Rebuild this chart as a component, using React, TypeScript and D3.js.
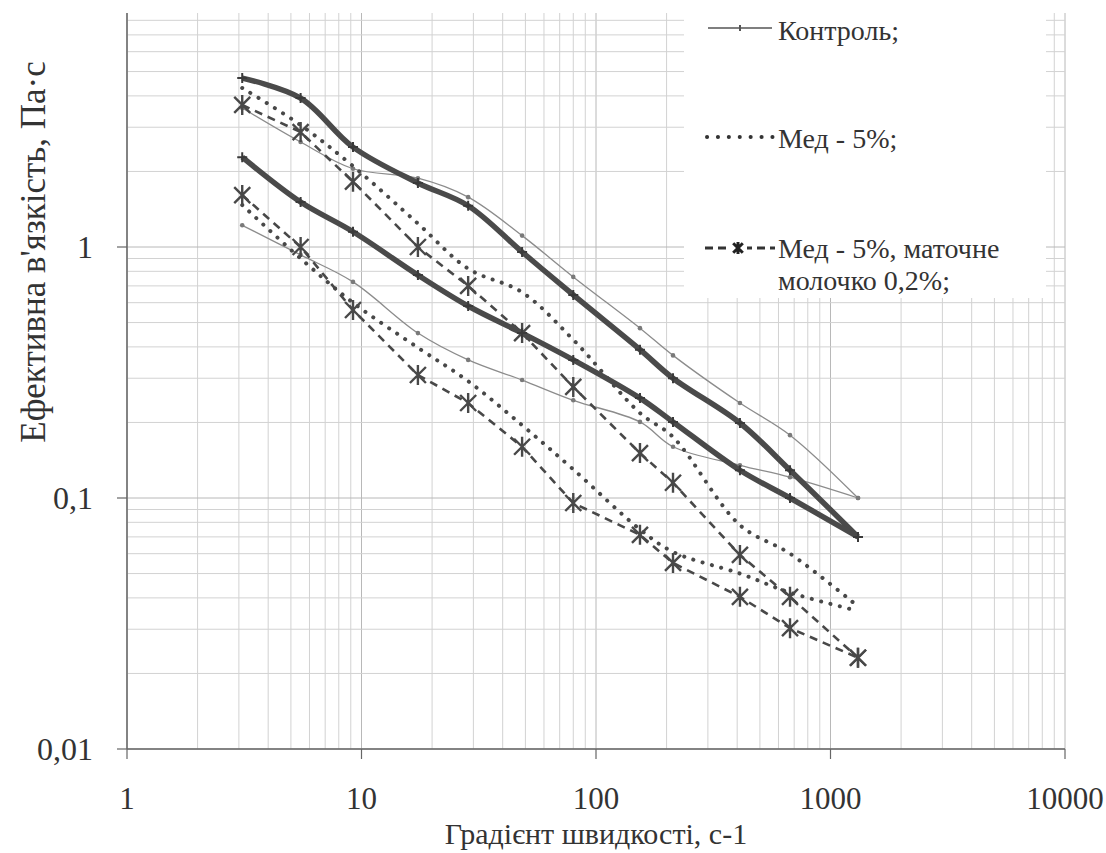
import React from 'react';
import * as d3 from 'd3';

// shear rate points (x)
const gradient = [3.1, 5.5, 9.2, 17.4, 28.5, 48.4, 80, 154, 213, 411, 672, 1310];

// thick solid lines (no legend entry)
const thickUpper = [4.71, 3.92, 2.5, 1.8, 1.46, 0.955, 0.644, 0.39, 0.3, 0.199, 0.129, 0.07];
const thickLower = [2.28, 1.51, 1.15, 0.773, 0.582, 0.454, 0.355, 0.25, 0.201, 0.129, 0.1, 0.07];

// Контроль (thin line)
const controlUpper = [3.58, 2.62, 2.05, 1.88, 1.58, 1.11, 0.76, 0.475, 0.37, 0.239, 0.178, 0.1];
const controlLower = [1.22, 0.93, 0.726, 0.454, 0.355, 0.295, 0.245, 0.201, 0.16, 0.135, 0.121, 0.1];

// Мед - 5% (dotted)
const honeyUpper = [4.3, 3.06, 2.1, 1.24, 0.82, 0.66, 0.427, 0.218, 0.175, 0.078, 0.06, 0.037];
const honeyLower = [1.47, 0.9, 0.6, 0.397, 0.292, 0.195, 0.13, 0.075, 0.061, 0.05, 0.042, 0.0355];

// Мед - 5%, маточне молочко 0,2% (dashed, star markers)
const jellyUpper = [3.68, 2.87, 1.82, 1.0, 0.7, 0.454, 0.277, 0.151, 0.115, 0.0593, 0.0404, 0.0231];
const jellyLower = [1.61, 1.0, 0.561, 0.309, 0.239, 0.16, 0.0955, 0.0713, 0.0551, 0.0404, 0.0303, 0.0231];

const xTickLabels = ['1', '10', '100', '1000', '10000'];
const yTickLabels = ['0,01', '0,1', '1'];

const legendLabels = ['Контроль;', 'Мед - 5%;', 'Мед - 5%, маточне', 'молочко 0,2%;'];

const FONT = "'Liberation Serif', 'DejaVu Serif', serif";

const x = d3.scaleLog().domain([1, 10000]).range([127, 1065]);
const y = d3.scaleLog().domain([0.01, 10]).range([749, -4]);
const plotTop = 13;

const starPath = (r: number) =>
  `M0,${-r}V${r}M${-r * 0.8},${-r * 0.8}L${r * 0.8},${r * 0.8}M${-r * 0.8},${r * 0.8}L${r * 0.8},${-r * 0.8}`;

export default function App() {
  const pts = (vals: number[]) => vals.map((v, i) => [gradient[i], v] as [number, number]);
  const smooth = d3
    .line<[number, number]>()
    .x((d) => x(d[0]))
    .y((d) => y(d[1]))
    .curve(d3.curveCatmullRom.alpha(0.5));
  const straight = d3
    .line<[number, number]>()
    .x((d) => x(d[0]))
    .y((d) => y(d[1]));

  // grid values
  const xGrid: number[] = [];
  for (let e = 0; e < 4; e++) for (let k = 1; k < 10; k++) xGrid.push(k * Math.pow(10, e));
  xGrid.push(10000);
  const yGrid: number[] = [];
  for (let e = -2; e < 1; e++) for (let k = 1; k < 10; k++) yGrid.push(+(k * Math.pow(10, e)).toFixed(4));
  const xMajor = [1, 10, 100, 1000, 10000];
  const yMajor = [0.01, 0.1, 1];

  const lineCol = '#484848';
  const thinCol = '#8c8c8c';
  const txt = { fontFamily: FONT };
  const plotMidX = (x.range()[0] + x.range()[1]) / 2;

  return (
    <svg
      width={1106}
      height={853}
      style={{ position: 'absolute', left: 0, top: 0, background: '#fff', fontFamily: FONT }}
    >
      <rect width={1106} height={853} fill="#fff" />
      {/* grid */}
      <g>
        {xGrid.map((v, i) => (
          <line
            key={'gx' + i}
            x1={x(v)}
            x2={x(v)}
            y1={plotTop}
            y2={749}
            stroke={xMajor.includes(v) ? '#b8b8b8' : '#d2d2d2'}
            strokeWidth={1}
          />
        ))}
        {yGrid
          .filter((v) => y(v) >= plotTop)
          .map((v, i) => (
            <line
              key={'gy' + i}
              x1={127}
              x2={1065}
              y1={y(v)}
              y2={y(v)}
              stroke={yMajor.includes(v) ? '#b8b8b8' : '#d2d2d2'}
              strokeWidth={1}
            />
          ))}
      </g>

      {/* axes */}
      <line x1={127} x2={127} y1={plotTop} y2={749} stroke="#666" strokeWidth={1.5} />
      <line x1={127} x2={1065} y1={749} y2={749} stroke="#666" strokeWidth={1.5} />
      {xMajor.map((v, i) => (
        <g key={'xt' + i}>
          <line x1={x(v)} x2={x(v)} y1={749} y2={759} stroke="#666" strokeWidth={1.2} />
          <text x={x(v)} y={809} textAnchor="middle" fontSize={31} fill="#333" style={txt}>
            {xTickLabels[i]}
          </text>
        </g>
      ))}
      {yMajor.map((v, i) => (
        <g key={'yt' + i}>
          <line x1={117} x2={127} y1={y(v)} y2={y(v)} stroke="#666" strokeWidth={1.2} />
          <text x={93} y={y(v)} dy="0.35em" textAnchor="end" fontSize={32} fill="#333" style={txt}>
            {yTickLabels[i]}
          </text>
        </g>
      ))}

      {/* axis titles */}
      <text x={plotMidX} y={844} textAnchor="middle" fontSize={30} fill="#333" style={txt}>
        Градієнт швидкості, с-1
      </text>
      <text
        transform="translate(45,252) rotate(-90)"
        textAnchor="middle"
        fontSize={35}
        fill="#333"
        style={txt}
      >
        Ефективна в'язкість, Па·с
      </text>

      {/* thin control lines */}
      {[controlUpper, controlLower].map((s, si) => (
        <g key={'c' + si}>
          <path d={smooth(pts(s)) || ''} fill="none" stroke={thinCol} strokeWidth={1.3} />
          {pts(s).map((d, i) => (
            <circle key={i} cx={x(d[0])} cy={y(d[1])} r={2.3} fill="#7a7a7a" />
          ))}
        </g>
      ))}

      {/* dotted honey lines */}
      {[honeyUpper, honeyLower].map((s, si) => (
        <path
          key={'h' + si}
          d={smooth(pts(s)) || ''}
          fill="none"
          stroke={lineCol}
          strokeWidth={4}
          strokeLinecap="round"
          strokeDasharray="0.1 9.5"
        />
      ))}

      {/* dashed + star lines */}
      {[jellyUpper, jellyLower].map((s, si) => (
        <g key={'j' + si}>
          <path
            d={straight(pts(s)) || ''}
            fill="none"
            stroke={lineCol}
            strokeWidth={2.6}
            strokeDasharray="8 6"
          />
          {pts(s).map((d, i) => (
            <path
              key={i}
              d={starPath(10)}
              transform={`translate(${x(d[0])},${y(d[1])})`}
              stroke={lineCol}
              strokeWidth={2.4}
              fill="none"
            />
          ))}
        </g>
      ))}

      {/* thick solid lines */}
      {[thickUpper, thickLower].map((s, si) => (
        <g key={'t' + si}>
          <path d={smooth(pts(s)) || ''} fill="none" stroke="#4a4a4a" strokeWidth={5.5} />
          {pts(s).map((d, i) => (
            <path
              key={i}
              d="M-5,0H5M0,-5V5"
              transform={`translate(${x(d[0])},${y(d[1])})`}
              stroke="#3a3a3a"
              strokeWidth={2}
            />
          ))}
        </g>
      ))}

      {/* legend */}
      <rect x={684} y={0} width={362} height={298} fill="#fff" />
      <g fill="#333" fontSize={28} style={txt}>
        <line x1={708} x2={772} y1={28} y2={28} stroke="#555" strokeWidth={1.3} />
        <line x1={740} x2={740} y1={25} y2={31} stroke="#555" strokeWidth={2} />
        <text x={778} y={40}>{legendLabels[0]}</text>

        <line
          x1={707}
          x2={773}
          y1={137}
          y2={137}
          stroke="#333"
          strokeWidth={4}
          strokeLinecap="round"
          strokeDasharray="0.1 10.8"
        />
        <text x={778} y={148}>{legendLabels[1]}</text>

        <line x1={705} x2={775} y1={248} y2={248} stroke="#333" strokeWidth={3} strokeDasharray="8 5" />
        <rect x={729} y={240} width={18} height={16} fill="#fff" />
        <path d={starPath(6)} transform="translate(738,248)" stroke="#222" strokeWidth={3} fill="none" />
        <text x={778} y={258}>{legendLabels[2]}</text>
        <text x={778} y={290}>{legendLabels[3]}</text>
      </g>
    </svg>
  );
}
